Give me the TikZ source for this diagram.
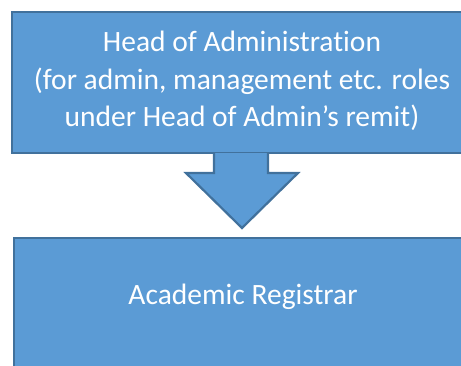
\documentclass[tikz,border=0pt]{standalone}
\usepackage{fontspec}
\setmainfont{Carlito}[Ligatures={NoCommon}]
\begin{document}
\begin{tikzpicture}[x=1pt,y=-1pt,
  box/.style={fill=boxblue,draw=edgeblue,line width=2.2pt},
  label/.style={text=white,font=\fontsize{29.5}{37.5}\selectfont,align=center,inner sep=0pt}]
\definecolor{boxblue}{HTML}{5B9BD5}
\definecolor{edgeblue}{HTML}{41719C}
\useasboundingbox (0,0) rectangle (461,365);
\begin{scope}
\clip (0,0) rectangle (461,365);
% upper box, running past the right edge
\draw[box] (12,12) rectangle (495,153);
\node[label] (head) at (242,81) {Head of Administration\\(for admin, management etc. roles\\under Head of Admin’s remit)};
% down arrow
\coordinate (tip) at (242,228);
\draw[box,line join=miter] (214,153) -- (214,173) -- (186,173) -- (tip) -- (298,173) -- (268,173) -- (268,153);
% lower box, running past the right and bottom edges
\draw[box] (14,238) rectangle (495,395);
\node[label] (reg) at (243,297) {Academic Registrar};
\end{scope}
\end{tikzpicture}
\end{document}
